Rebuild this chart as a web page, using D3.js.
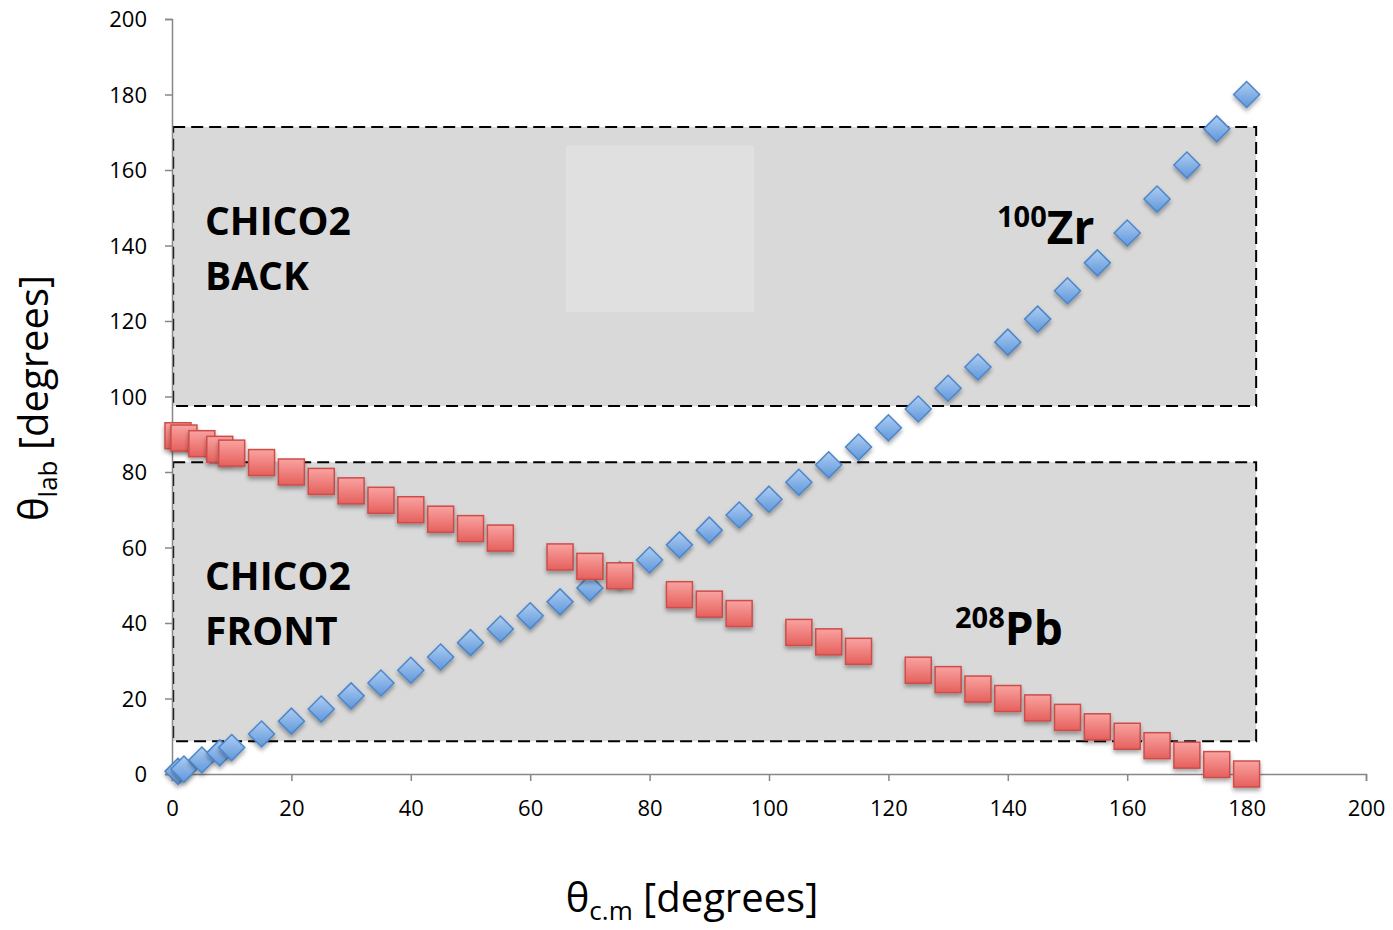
<!DOCTYPE html>
<html>
<head>
<meta charset="utf-8">
<script src="https://cdn.jsdelivr.net/npm/d3@7"></script>
<style>
  body { margin: 0; background: #fff; }
  svg text { font-family: "Open Sans", "DejaVu Sans", sans-serif; }
</style>
</head>
<body>
<div id="chart"></div>
<script>
// centre-of-mass angles and lab angles
const zrCm  = [1, 2, 5, 8, 10, 15, 20, 25, 30, 35, 40, 45, 50, 55, 60, 65, 70, 75, 80, 85, 90,
               95, 100, 105, 110, 115, 120, 125, 130, 135, 140, 145, 150, 155, 160, 165, 170, 175, 180];
const zrLab = [0.7, 1.3, 3.7, 5.6, 7.0, 10.6, 14.0, 17.2, 20.7, 24.1, 27.5, 31.0, 34.8, 38.4, 41.9,
               45.6, 49.3, 52.8, 56.7, 60.7, 64.6, 68.6, 72.8, 77.3, 81.9, 86.6, 91.7, 96.7, 102.2,
               107.8, 114.4, 120.5, 128.0, 135.4, 143.3, 152.3, 161.3, 170.9, 180.0];
const pbCm  = [1, 2, 5, 8, 10, 15, 20, 25, 30, 35, 40, 45, 50, 55, 65, 70, 75, 85, 90, 95,
               105, 110, 115, 125, 130, 135, 140, 145, 150, 155, 160, 165, 170, 175, 180];
const pbLab = [89.6, 89, 87.5, 86, 85, 82.5, 80, 77.5, 75, 72.5, 70, 67.5, 65, 62.5, 57.5, 55, 52.5,
               47.5, 45, 42.5, 37.5, 35, 32.5, 27.5, 25, 22.5, 20, 17.5, 15, 12.5, 10, 7.5, 5, 2.5, 0];
const xTicks = [0, 20, 40, 60, 80, 100, 120, 140, 160, 180, 200];
const yTicks = [0, 20, 40, 60, 80, 100, 120, 140, 160, 180, 200];

// detector regions [x0, x1, y0, y1] in data units
const backBox  = [0.2, 181.6, 97.5, 171.4];
const frontBox = [0.2, 181.6, 8.7, 82.6];
const paleBox  = [66, 97.5, 122.3, 166.5];

const W = 1393, H = 930;
const margin = { top: 19, right: 27, bottom: 156, left: 172 };
const width = W - margin.left - margin.right;
const height = H - margin.top - margin.bottom;

const svg = d3.select("#chart").append("svg")
    .attr("width", W).attr("height", H);

const defs = svg.append("defs");
const redGrad = defs.append("linearGradient").attr("id", "redGrad")
    .attr("x1", 0).attr("y1", 0).attr("x2", 0).attr("y2", 1);
redGrad.append("stop").attr("offset", "0%").attr("stop-color", "#f9a3a1");
redGrad.append("stop").attr("offset", "100%").attr("stop-color", "#e5605c");
const blueGrad = defs.append("linearGradient").attr("id", "blueGrad")
    .attr("x1", 0).attr("y1", 0).attr("x2", 0).attr("y2", 1);
blueGrad.append("stop").attr("offset", "0%").attr("stop-color", "#aecdf2");
blueGrad.append("stop").attr("offset", "100%").attr("stop-color", "#5f97db");
const shadow = defs.append("filter").attr("id", "shadow")
    .attr("x", "-50%").attr("y", "-50%").attr("width", "200%").attr("height", "200%");
shadow.append("feDropShadow").attr("dx", 0).attr("dy", 3).attr("stdDeviation", 2)
    .attr("flood-color", "#000").attr("flood-opacity", 0.35);

const g = svg.append("g").attr("transform", "translate(" + margin.left + "," + margin.top + ")");

const x = d3.scaleLinear().domain([0, 200]).range([0, width]);
const y = d3.scaleLinear().domain([0, 200]).range([height, 0]);

// shaded regions
[backBox, frontBox].forEach(b => {
    g.append("rect")
        .attr("x", x(b[0])).attr("y", y(b[3]))
        .attr("width", x(b[1]) - x(b[0])).attr("height", y(b[2]) - y(b[3]))
        .attr("fill", "#d9d9d9")
        .attr("stroke", "#000").attr("stroke-width", 2)
        .attr("stroke-dasharray", "12,6");
});
g.append("rect")
    .attr("x", x(paleBox[0])).attr("y", y(paleBox[3]))
    .attr("width", x(paleBox[1]) - x(paleBox[0])).attr("height", y(paleBox[2]) - y(paleBox[3]))
    .attr("fill", "#e0e0e0");

// axes
const xAxis = g.append("g").attr("transform", "translate(0," + height + ")")
    .call(d3.axisBottom(x).tickValues(xTicks).tickSize(7).tickPadding(19));
const yAxis = g.append("g")
    .call(d3.axisLeft(y).tickValues(yTicks).tickSize(7).tickPadding(18));
[xAxis, yAxis].forEach(a => {
    a.select(".domain").attr("stroke", "#878787").attr("stroke-width", 1.5);
    a.selectAll(".tick line").attr("stroke", "#878787").attr("stroke-width", 1.5);
    a.selectAll(".tick text").attr("fill", "#000")
        .style("font-family", "'Open Sans', sans-serif").style("font-size", "22px");
});
yAxis.selectAll(".tick text").attr("dy", "0.35em");

// region labels
const boldLabel = (lines, px, py) => {
    lines.forEach((t, i) => {
        g.append("text").attr("x", px).attr("y", py + i * 55)
            .style("font-size", "39px").style("font-weight", "bold").text(t);
    });
};
boldLabel(["CHICO2", "BACK"], 33, 235 - margin.top);
boldLabel(["CHICO2", "FRONT"], 33, 590 - margin.top);

// series
const zrData = zrCm.map((c, i) => ({ cm: c, lab: zrLab[i] }));
const pbData = pbCm.map((c, i) => ({ cm: c, lab: pbLab[i] }));
const sz = 26;

g.append("g").selectAll("path").data(zrData).enter().append("path")
    .attr("transform", d => "translate(" + x(d.cm) + "," + y(d.lab) + ")")
    .attr("d", "M0," + (-sz / 2) + "L" + (sz / 2) + ",0L0," + (sz / 2) + "L" + (-sz / 2) + ",0Z")
    .attr("fill", "url(#blueGrad)")
    .attr("stroke", "#4e86c8").attr("stroke-width", 1.5)
    .attr("filter", "url(#shadow)");

g.append("g").selectAll("rect").data(pbData).enter().append("rect")
    .attr("x", d => x(d.cm) - sz / 2).attr("y", d => y(d.lab) - sz / 2)
    .attr("width", sz).attr("height", sz)
    .attr("fill", "url(#redGrad)")
    .attr("stroke", "#cd4d4a").attr("stroke-width", 1.5)
    .attr("filter", "url(#shadow)");

// isotope labels
const iso = (mass, sym, px, py) => {
    const t = g.append("text").attr("x", px).attr("y", py).style("font-weight", "bold");
    t.append("tspan").style("font-size", "29px").attr("dy", -17).text(mass);
    t.append("tspan").style("font-size", "46px").attr("dy", 17).text(sym);
};
iso("100", "Zr", 997 - margin.left, 244 - margin.top);
iso("208", "Pb", 955 - margin.left, 645 - margin.top);

// axis titles
const xt = svg.append("text").attr("x", 692).attr("y", 912).attr("text-anchor", "middle")
    .style("font-size", "40px");
xt.append("tspan").text("θ");
xt.append("tspan").style("font-size", "26px").attr("dy", 8).text("c.m");
xt.append("tspan").attr("dy", -8).text(" [degrees]");

const yt = svg.append("text").attr("transform", "translate(48,398) rotate(-90)")
    .attr("text-anchor", "middle").style("font-size", "40px");
yt.append("tspan").text("θ");
yt.append("tspan").style("font-size", "26px").attr("dy", 9).text("lab");
yt.append("tspan").attr("dy", -9).text(" [degrees]");
</script>
</body>
</html>
